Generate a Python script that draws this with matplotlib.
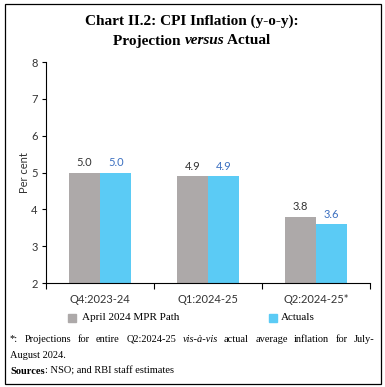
import numpy as np
import matplotlib
matplotlib.use("Agg")
import matplotlib.pyplot as plt
from matplotlib.patches import Rectangle

# data
quarters = ["Q4:2023-24", "Q1:2024-25", "Q2:2024-25*"]
mpr_path = [5.0, 4.9, 3.8]
actuals = [5.0, 4.9, 3.6]
series_names = ["April 2024 MPR Path", "Actuals"]
yticks = [2, 3, 4, 5, 6, 7, 8]

grey = "#ADA9A9"
blue = "#5BCBF5"
serif = "Liberation Serif"
sans = "Lato"

fig = plt.figure(figsize=(3.85, 3.87), dpi=100)
W, H = 385.0, 387.0

def fx(px):
    return px / W

def fy(py):
    return 1 - py / H

# outer frame
fig.patches.append(Rectangle((fx(5), fy(384)), fx(381) - fx(5), fy(4) - fy(384),
                             transform=fig.transFigure, fill=False, lw=0.9, ec="black"))

ax = fig.add_axes([fx(46), fy(283), fx(370) - fx(46), fy(62) - fy(283)])
x = np.arange(len(quarters))
w = 0.29
b1 = ax.bar(x - w / 2, mpr_path, w, color=grey, label=series_names[0], zorder=2)
b2 = ax.bar(x + w / 2, actuals, w, color=blue, label=series_names[1], zorder=2)

for rect, v in zip(b1, mpr_path):
    ax.text(rect.get_x() + rect.get_width() / 2, v + 0.12, "%.1f" % v,
            ha="center", va="bottom", fontsize=8, family=sans, color="#333333")
for rect, v in zip(b2, actuals):
    ax.text(rect.get_x() + rect.get_width() / 2, v + 0.12, "%.1f" % v,
            ha="center", va="bottom", fontsize=8, family=sans, color="#3B6FC0")

ax.set_xlim(-0.5, 2.5)
ax.set_ylim(2, 8)
ax.set_yticks(yticks)
ax.set_yticklabels([str(t) for t in yticks], family=sans, fontsize=8, color="#333333")
ax.set_xticks([-0.5, 0.5, 1.5, 2.5])
ax.set_xticklabels([])
ax.set_xticks(x, minor=True)
ax.set_xticklabels(quarters, minor=True, family=sans, fontsize=8, color="#333333")
ax.tick_params(axis="x", which="minor", length=0, pad=8)
ax.tick_params(axis="x", which="major", length=4, width=0.8)
ax.tick_params(axis="y", length=3, width=0.8, pad=3)
for s in ["top", "right"]:
    ax.spines[s].set_visible(False)
for s in ["left", "bottom"]:
    ax.spines[s].set_linewidth(0.8)
ax.set_ylabel("Per cent", family=sans, fontsize=8, color="#333333", labelpad=1)

# legend
fig.patches.append(Rectangle((fx(68), fy(322)), fx(8), fy(314) - fy(322),
                             transform=fig.transFigure, color=grey))
fig.text(fx(82), fy(318), series_names[0], family=serif, fontsize=8, va="center")
fig.patches.append(Rectangle((fx(269), fy(322)), fx(8), fy(314) - fy(322),
                             transform=fig.transFigure, color=blue))
fig.text(fx(281), fy(318), series_names[1], family=serif, fontsize=8, va="center")

fig.canvas.draw()
rend = fig.canvas.get_renderer()

def width_px(s, props):
    t = fig.text(0, 0, s, **props)
    wpx = t.get_window_extent(rend).width
    t.remove()
    return wpx

def place_pieces(pieces, y, x0=None, center=None):
    # pieces: list of (text, props)
    widths = [width_px(s, p) for s, p in pieces]
    if center is not None:
        x0 = center - sum(widths) / 2
    xx = x0
    for (s, p), wp in zip(pieces, widths):
        fig.text(fx(xx), fy(y), s, va="center", **p)
        xx += wp

def justify(words, props, y, x0, x1):
    widths = [width_px(s, p) for s, p in zip(words, props)]
    gap = (x1 - x0 - sum(widths)) / (len(words) - 1)
    xx = x0
    for s, p, wp in zip(words, props, widths):
        fig.text(fx(xx), fy(y), s, va="center", **p)
        xx += wp + gap

# title
tb = dict(family=serif, fontsize=11, fontweight="bold")
tbi = dict(family=serif, fontsize=11, fontweight="bold", style="italic")
place_pieces([("Chart II.2: CPI Inflation (y-o-y):", tb)], 21, center=192)
place_pieces([("Projection ", tb), ("versus", tbi), (" Actual", tb)], 41, center=192)

# footnote
nk = dict(family=serif, fontsize=7.5)
nki = dict(family=serif, fontsize=7.5, style="italic")
words = ["*:", "Projections", "for", "entire", "Q2:2024-25", "vis-à-vis", "actual",
         "average", "inflation", "for", "July-"]
word_props = [nki if w_ == "vis-à-vis" else nk for w_ in words]
justify(words, word_props, 339, 10, 375)
fig.text(fx(10), fy(355), "August 2024.", va="center", **nk)
place_pieces([("Sources", dict(family=serif, fontsize=7.5, fontweight="bold")),
              (": NSO; and RBI staff estimates", nk)], 371, x0=10)

fig.savefig("out.png", dpi=100)
